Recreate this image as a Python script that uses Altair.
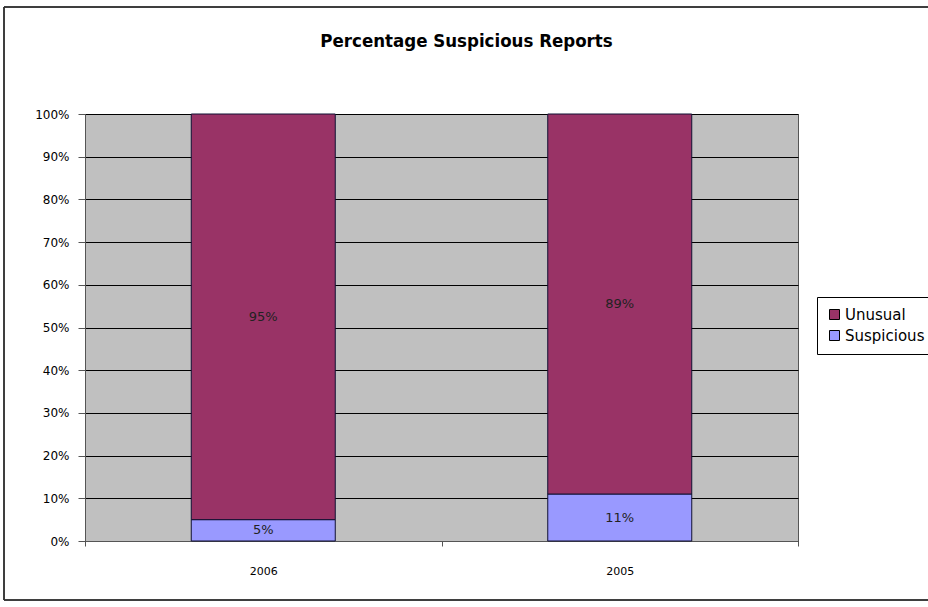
import altair as alt
import pandas as pd

years = ["2006", "2005"]
categories = ["Suspicious", "Unusual"]
suspicious = [0.05, 0.11]
unusual = [0.95, 0.89]
labels_susp = ["5%", "11%"]
labels_unus = ["95%", "89%"]

rows = []
for i, y in enumerate(years):
    rows.append({"year": y, "cat": "Suspicious", "val": suspicious[i], "lab": labels_susp[i], "ord": 0})
    rows.append({"year": y, "cat": "Unusual", "val": unusual[i], "lab": labels_unus[i], "ord": 1})
df = pd.DataFrame(rows)

W, H = 713, 427
FONT = "DejaVu Sans"

xenc = alt.X("year:N", sort=years, title=None,
             scale=alt.Scale(paddingInner=0, paddingOuter=0),
             axis=alt.Axis(labelAngle=0, tickBand="extent", labelFont=FONT, labelFontSize=11,
                           labelColor="black", labelPadding=19, domainColor="#555555",
                           tickColor="#555555", tickSize=5, grid=False))

base = alt.Chart(df).transform_stack(
    stack="val", groupby=["year"], as_=["y0", "y1"],
    sort=[alt.SortField("ord", order="ascending")]
).transform_calculate(mid="(datum.y0 + datum.y1) / 2")

bars = base.mark_bar(size=144, stroke="#111133", strokeWidth=1).encode(
    x=xenc,
    y=alt.Y("y0:Q", scale=alt.Scale(domain=[0, 1]), title=None,
            axis=alt.Axis(format=".0%", values=[i / 10 for i in range(11)],
                          labelFont=FONT, labelFontSize=12, labelColor="black",
                          gridColor="black", gridWidth=1, gridOpacity=1,
                          domainColor="#555555", tickColor="#555555", tickSize=7,
                          labelPadding=9)),
    y2="y1:Q",
    color=alt.Color("cat:N", scale=alt.Scale(domain=["Unusual", "Suspicious"],
                                              range=["#993366", "#9999FF"]),
                    legend=alt.Legend(title=None, orient="none", legendX=732, legendY=183,
                                      symbolType="square", symbolSize=100, symbolStrokeColor="black",
                                      symbolStrokeWidth=1, labelFont=FONT, labelFontSize=15,
                                      labelColor="black", strokeColor="black", fillColor="white",
                                      padding=10, rowPadding=5, labelOffset=3, symbolOpacity=1)),
)

text = base.mark_text(font=FONT, fontSize=13, color="#222222").encode(
    x=alt.X("year:N", sort=years),
    y=alt.Y("mid:Q"),
    text="lab:N",
)

frame = alt.Chart(df).mark_rect(fill=None, stroke="#333333", strokeWidth=1).encode(
    x=alt.value(-81), x2=alt.value(W + 140), y=alt.value(-107), y2=alt.value(H + 59)
)

chart = alt.layer(bars, text, frame).properties(
    width=W, height=H,
    title=alt.TitleParams("Percentage Suspicious Reports", font="DejaVu Sans Condensed, Liberation Sans",
                          fontSize=18.5, fontWeight="bold", color="black", offset=0, dy=44, dx=25,
                          anchor="middle"),
    padding={"left": 85, "top": 114, "right": 130, "bottom": 66},
    autosize=alt.AutoSizeParams(type="none"),
    background="white",
).configure_view(fill="#C0C0C0", stroke="#555555", strokeWidth=1)

chart.save("out.html", embed_options={"renderer": "svg", "actions": False})
